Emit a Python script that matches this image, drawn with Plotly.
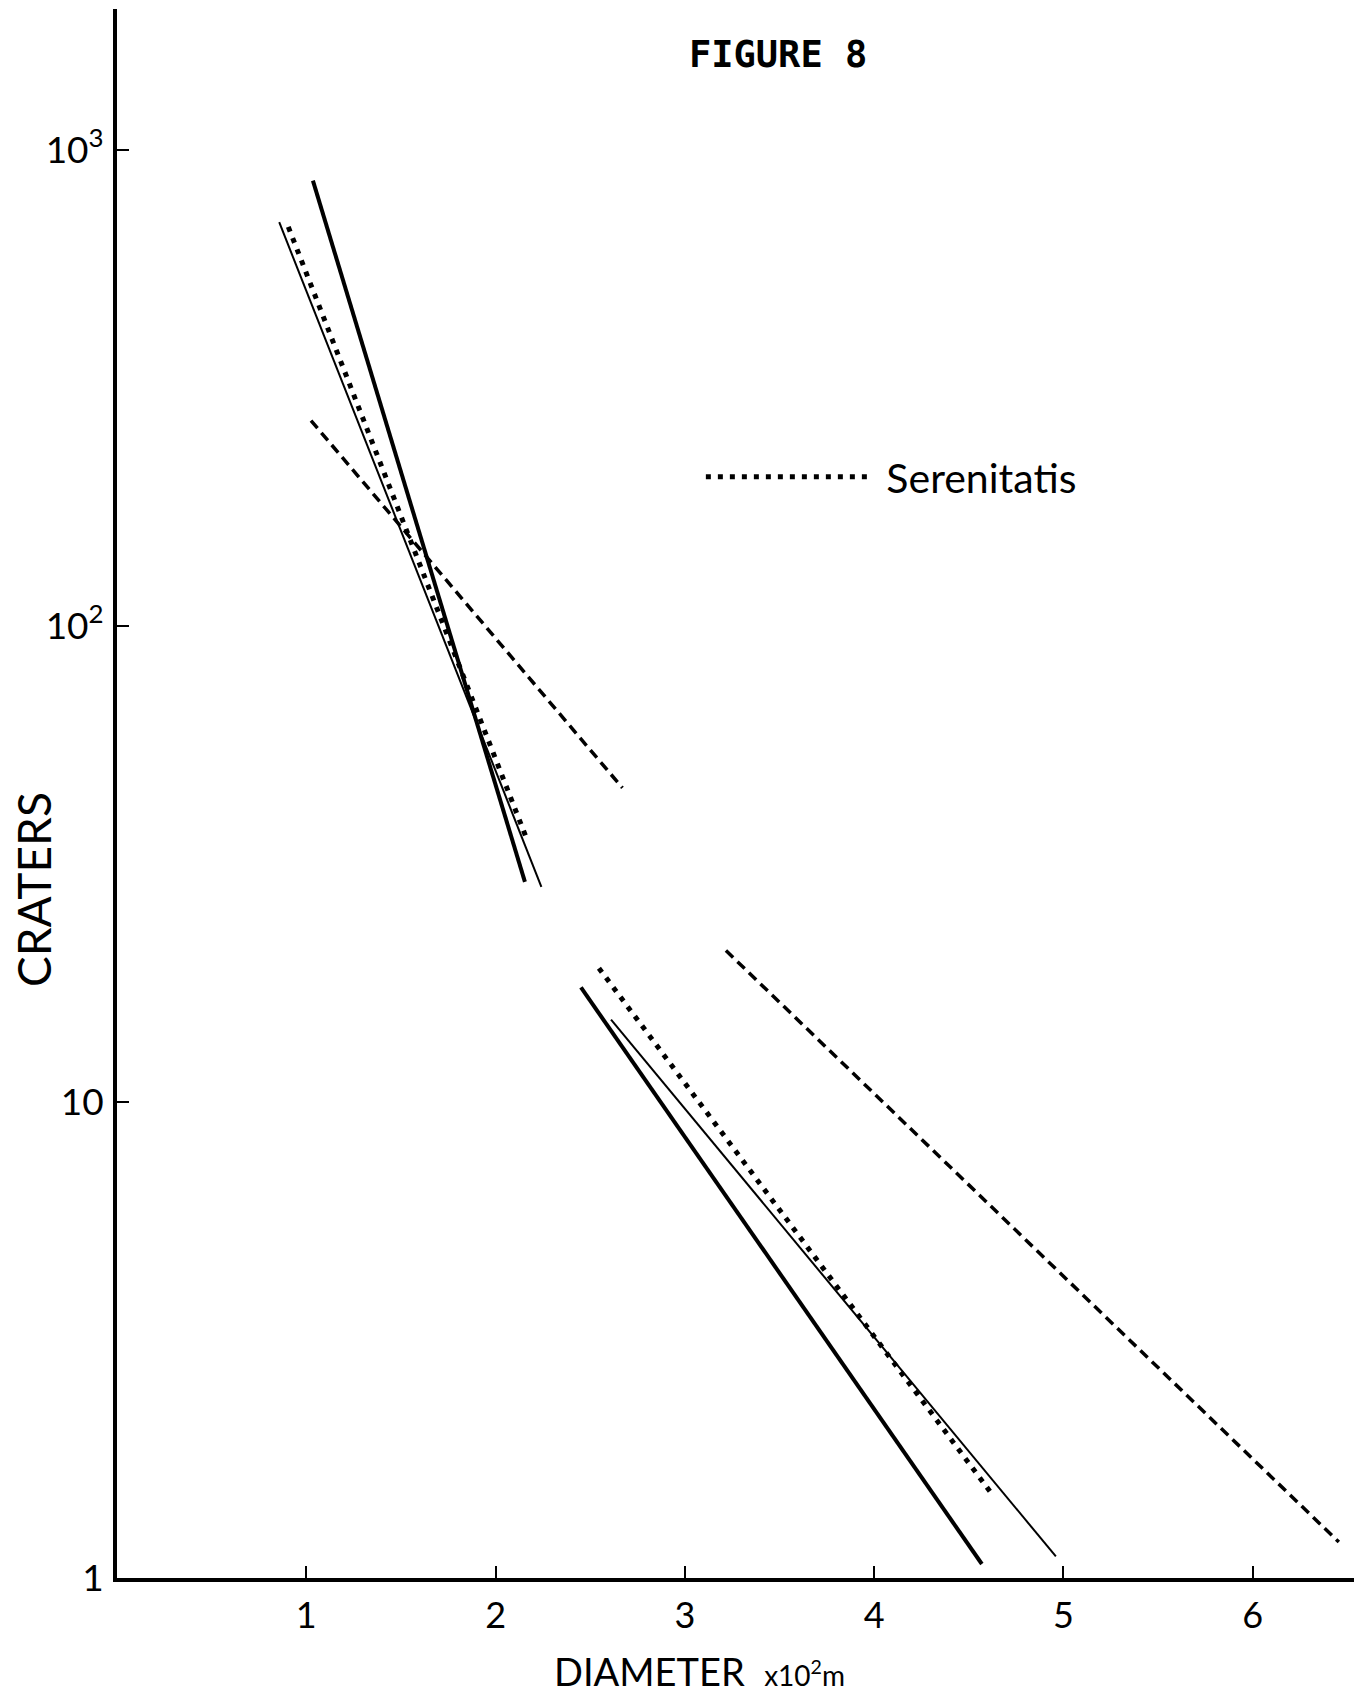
import plotly.graph_objects as go

# ---- data (diameter in 10^2 m, cumulative craters) ----
diam_thick = [1.035, 2.155, None, 2.451, 4.569]
crat_thick = [862, 29.0, None, 17.4, 1.07]

diam_thin = [0.857, 2.242, None, 2.610, 4.960]
crat_thin = [705, 28.3, None, 14.9, 1.11]

diam_serenitatis = [0.905, 2.161, None, 2.546, 4.612]
crat_serenitatis = [689, 36.0, None, 19.1, 1.52]

diam_dash = [1.025, 2.670, None, 3.217, 6.455]
crat_dash = [270, 45.7, None, 20.8, 1.19]

x_tickvals = [1, 2, 3, 4, 5, 6]
x_ticktext = ["1", "2", "3", "4", "5", "6"]
y_tickvals = [1, 10, 100, 1000]
y_ticktext = ["1", "10", "10<sup>2</sup>", "10<sup>3</sup>"]

FONT = "Lato"

fig = go.Figure()
fig.add_trace(go.Scatter(x=diam_thick, y=crat_thick, mode="lines",
                         line=dict(color="black", width=4), showlegend=False))
fig.add_trace(go.Scatter(x=diam_thin, y=crat_thin, mode="lines",
                         line=dict(color="black", width=2), showlegend=False))
fig.add_trace(go.Scatter(x=diam_serenitatis, y=crat_serenitatis, mode="lines",
                         name="&nbsp;Serenitatis",
                         line=dict(color="black", width=5, dash="5px,7px"),
                         showlegend=True))
fig.add_trace(go.Scatter(x=diam_dash, y=crat_dash, mode="lines",
                         line=dict(color="black", width=3.5, dash="10px,6px"),
                         showlegend=False))

fig.update_layout(
    width=1359, height=1701,
    margin=dict(l=117, r=5, t=9, b=123, pad=0),
    paper_bgcolor="white", plot_bgcolor="white",
    font=dict(family=FONT, color="black", size=36),
    showlegend=True,
    legend=dict(x=0.472, y=0.7017, xanchor="left", yanchor="middle",
                itemwidth=165, font=dict(family=FONT, size=41, color="black"),
                bgcolor="rgba(0,0,0,0)", borderwidth=0),
    xaxis=dict(range=[0, 6.535], tickvals=x_tickvals, ticktext=x_ticktext,
               ticks="inside", ticklen=12, tickwidth=2, tickcolor="black",
               showline=True, linewidth=4, linecolor="black",
               showgrid=False, zeroline=False,
               tickfont=dict(family=FONT, size=36), ticklabelstandoff=3),
    yaxis=dict(type="log", range=[0, 3.296], tickvals=y_tickvals, ticktext=y_ticktext,
               ticks="inside", ticklen=12, tickwidth=2, tickcolor="black",
               showline=True, linewidth=4, linecolor="black",
               showgrid=False, zeroline=False,
               tickfont=dict(family=FONT, size=37), ticklabelstandoff=2),
    annotations=[
        dict(text="<b>FIGURE 8</b>", xref="paper", yref="paper", x=0.534, y=0.971,
             showarrow=False, xanchor="center", yanchor="middle",
             font=dict(family="DejaVu Sans Mono", size=37, color="black")),
        dict(text="DIAMETER  <span style='font-size:28px'>x10<sup>2</sup>m</span>",
             xref="paper", yref="paper", x=0.471, y=-0.059,
             showarrow=False, xanchor="center", yanchor="middle",
             font=dict(family=FONT, size=38, color="black")),
        dict(text="CRATERS", xref="paper", yref="paper", x=-0.068, y=0.439,
             showarrow=False, xanchor="center", yanchor="middle", textangle=-90,
             font=dict(family=FONT, size=46, color="black")),
    ],
)

fig.write_html("out.html", config={"displayModeBar": False},
               post_script="document.body.style.margin='0';")
